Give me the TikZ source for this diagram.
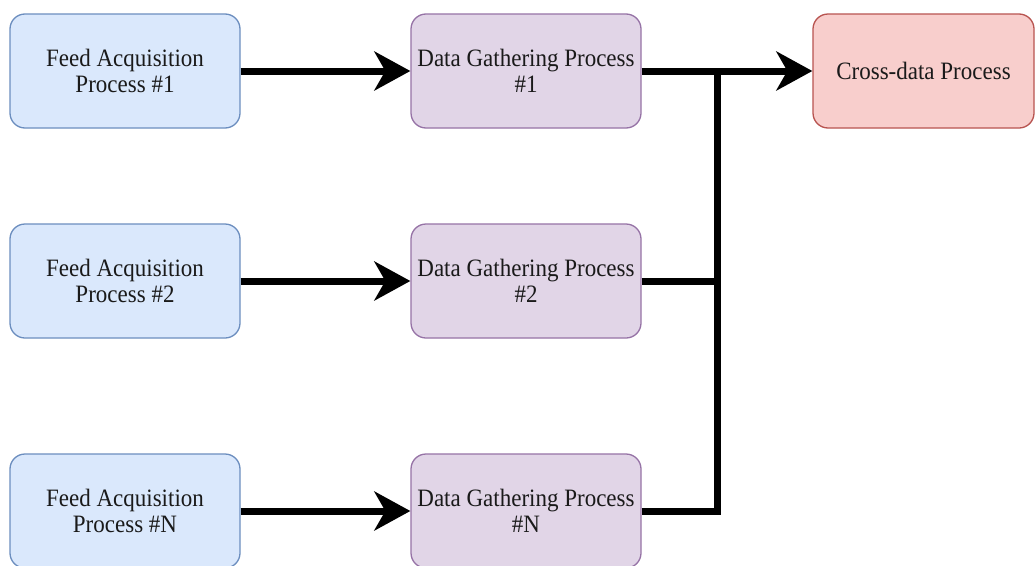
\documentclass[tikz,border=0pt]{standalone}
\usepackage{fontspec}
\setmainfont{Liberation Serif}
\newfontfamily\boxfont{Liberation Serif}[FakeStretch=0.92]
\usetikzlibrary{arrows.meta}

\definecolor{feedfill}{HTML}{DAE8FC}
\definecolor{feeddraw}{HTML}{6C8EBF}
\definecolor{gatherfill}{HTML}{E1D5E7}
\definecolor{gatherdraw}{HTML}{9673A6}
\definecolor{crossfill}{HTML}{F8CECC}
\definecolor{crossdraw}{HTML}{B85450}
\definecolor{labeltext}{HTML}{1A1A1A}

\begin{document}
\begin{tikzpicture}[x=1pt,y=-1pt,
  procbox/.style={rounded corners=15pt, line width=1.3pt,
    minimum width=230pt, minimum height=114pt, inner sep=0pt,
    align=center, text=labeltext,
    font=\boxfont\fontsize{25}{26}\selectfont},
  feedbox/.style={procbox, fill=feedfill, draw=feeddraw},
  gatherbox/.style={procbox, fill=gatherfill, draw=gatherdraw},
  crossbox/.style={procbox, fill=crossfill, draw=crossdraw, minimum width=221pt},
  flow/.style={line width=7pt, line join=miter,
    -{Stealth[length=36pt,width=39pt,inset=11pt]}},
  busline/.style={line width=7pt, line join=miter}]

  % page frame
  \useasboundingbox (0,0) rectangle (1035,565);
  \clip (0,0) rectangle (1035,565);
  \fill[white] (0,0) rectangle (1035,565);

  % acquisition stage
  \node[feedbox] (feed1) at (125,71)  {Feed Acquisition\\Process \#1};
  \node[feedbox] (feed2) at (125,281) {Feed Acquisition\\Process \#2};
  \node[feedbox] (feedN) at (125,511) {Feed Acquisition\\Process \#N};

  % gathering stage
  \node[gatherbox] (dg1) at (526,71)  {Data Gathering Process\\\#1};
  \node[gatherbox] (dg2) at (526,281) {Data Gathering Process\\\#2};
  \node[gatherbox] (dgN) at (526,511) {Data Gathering Process\\\#N};

  % merge stage
  \node[crossbox] (cross) at (923.5,71) {Cross-data Process};

  % junction on the collecting bus
  \coordinate (bus) at (717,71);

  % feeds into gatherers
  \draw[flow] (feed1) -- (dg1);
  \draw[flow] (feed2) -- (dg2);
  \draw[flow] (feedN) -- (dgN);

  % gatherers into the cross-data process
  \draw[busline] (dg2.east) -| (bus);
  \draw[busline] (dgN.east) -| (bus);
  \draw[flow] (dg1) -- (cross);
\end{tikzpicture}
\end{document}
